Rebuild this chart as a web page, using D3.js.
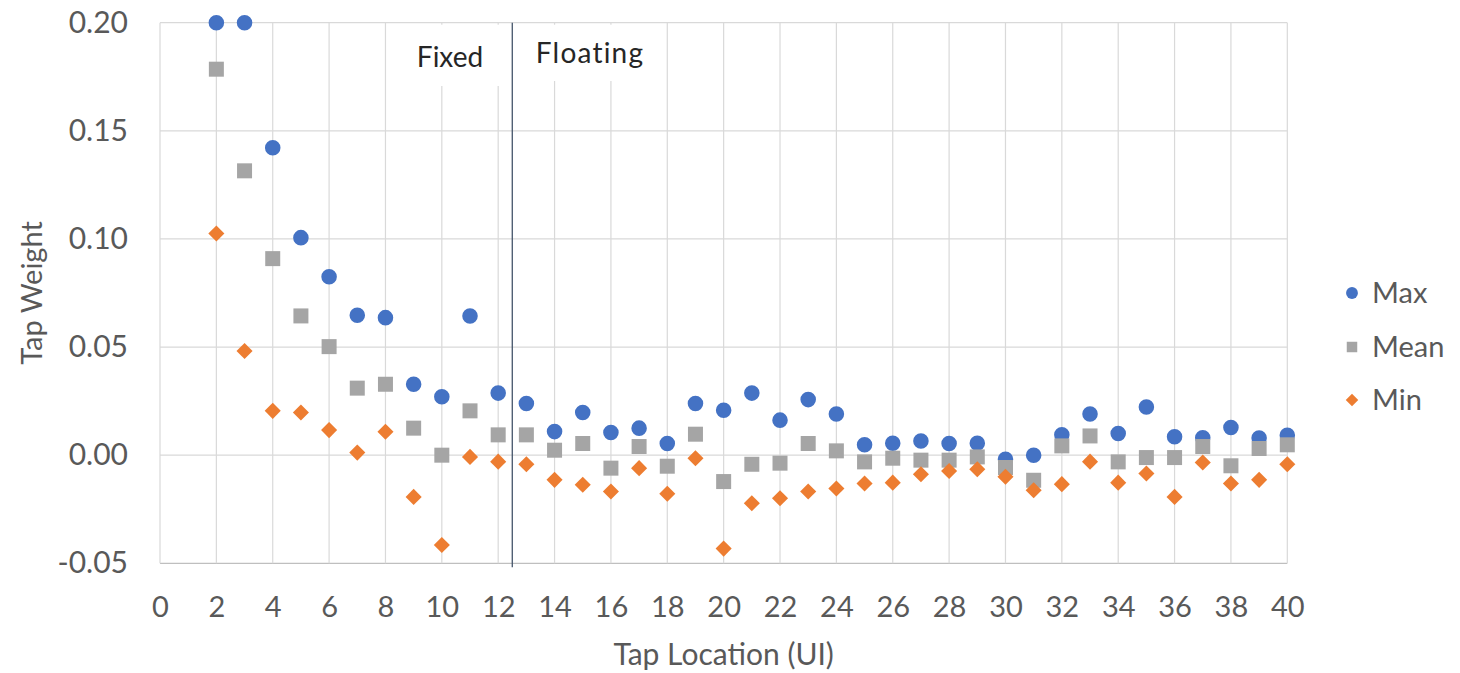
<!DOCTYPE html>
<html>
<head>
<meta charset="utf-8">
<script src="https://cdn.jsdelivr.net/npm/d3@7/dist/d3.min.js"></script>
<style>
  html, body { margin: 0; padding: 0; background: #ffffff; }
  svg { display: block; }
  text { font-family: Lato, "Open Sans", sans-serif; }
</style>
</head>
<body>
<svg id="chart" width="1460" height="673"></svg>
<script>
// ---- Data ----
const tapLocations = [2,3,4,5,6,7,8,9,10,11,12,13,14,15,16,17,18,19,20,21,22,23,24,25,26,27,28,29,30,31,32,33,34,35,36,37,38,39,40];
const maxValues  = [0.200,0.200,0.1422,0.1006,0.0825,0.0647,0.0636,0.0328,0.0270,0.0644,0.0287,0.0239,0.0109,0.0197,0.0105,0.0125,0.0054,0.0239,0.0208,0.0287,0.0162,0.0257,0.0190,0.0048,0.0055,0.0066,0.0054,0.0055,-0.0019,0.0000,0.0094,0.0190,0.0100,0.0223,0.0085,0.0081,0.0128,0.0079,0.0092];
const meanValues = [0.1785,0.1315,0.0909,0.0644,0.0502,0.0310,0.0328,0.0125,0.0000,0.0205,0.0094,0.0094,0.0023,0.0054,-0.0060,0.0040,-0.0051,0.0097,-0.0122,-0.0042,-0.0037,0.0054,0.0020,-0.0031,-0.0014,-0.0023,-0.0023,-0.0008,-0.0057,-0.0116,0.0043,0.0089,-0.0031,-0.0011,-0.0011,0.0040,-0.0049,0.0031,0.0048];
const minValues  = [0.1025,0.0482,0.0205,0.0197,0.0116,0.0012,0.0108,-0.0193,-0.0415,-0.0008,-0.0030,-0.0042,-0.0114,-0.0137,-0.0168,-0.0060,-0.0178,-0.0014,-0.0432,-0.0222,-0.0199,-0.0168,-0.0154,-0.0131,-0.0127,-0.0088,-0.0073,-0.0065,-0.0100,-0.0162,-0.0134,-0.0030,-0.0127,-0.0085,-0.0193,-0.0034,-0.0131,-0.0114,-0.0042];
const xTicks = [0,2,4,6,8,10,12,14,16,18,20,22,24,26,28,30,32,34,36,38,40];
const yTicks = [-0.05,0.00,0.05,0.10,0.15,0.20];
const yTickLabels = ["-0.05","0.00","0.05","0.10","0.15","0.20"];
const seriesNames = ["Max","Mean","Min"];
const dividerX = 12.5;
const regionLabels = ["Fixed","Floating"];

// ---- Layout ----
const svg = d3.select("#chart");
const pLeft = 160, pRight = 1287.3, pTop = 22.7, pBottom = 563.3;
const x = d3.scaleLinear().domain([0,40]).range([pLeft,pRight]);
const y = d3.scaleLinear().domain([-0.05,0.20]).range([pBottom,pTop]);
const textGray = "#595959";
const colors = {Max:"#4472C4", Mean:"#A5A5A5", Min:"#ED7D31"};

// gridlines
svg.append("g").selectAll("line").data(yTicks).join("line")
  .attr("x1",pLeft).attr("x2",pRight)
  .attr("y1",d=>y(d)).attr("y2",d=>y(d))
  .attr("stroke",d=>d===-0.05?"#bfbfbf":"#d9d9d9").attr("stroke-width",1.2);
svg.append("g").selectAll("line").data(xTicks).join("line")
  .attr("x1",d=>x(d)).attr("x2",d=>x(d))
  .attr("y1",pTop).attr("y2",pBottom)
  .attr("stroke","#d9d9d9").attr("stroke-width",1.2);

// label background boxes
svg.append("rect").attr("x",402).attr("y",pTop+2).attr("width",x(dividerX)-402-1).attr("height",86-pTop-2).attr("fill","#fff");
svg.append("rect").attr("x",x(dividerX)+1).attr("y",pTop+2).attr("width",655-x(dividerX)-1).attr("height",81-pTop-2).attr("fill","#fff");

// divider
svg.append("line").attr("x1",x(dividerX)).attr("x2",x(dividerX))
  .attr("y1",pTop).attr("y2",pBottom+4)
  .attr("stroke","#44546A").attr("stroke-width",1.3);

svg.append("text").attr("x",450).attr("y",66.7).attr("text-anchor","middle")
  .attr("font-size",28).attr("fill","#262626").text(regionLabels[0]);
svg.append("text").attr("x",590).attr("y",63.3).attr("text-anchor","middle")
  .attr("font-size",28).attr("fill","#262626").attr("letter-spacing",1.2).text(regionLabels[1]);

// axes
const xAxis = svg.append("g").attr("transform",`translate(0,${pBottom})`)
  .call(d3.axisBottom(x).tickValues(xTicks).tickSize(0).tickPadding(33).tickFormat(d3.format("d")));
xAxis.select(".domain").remove();
xAxis.selectAll("text").attr("font-size",29).attr("fill",textGray).attr("font-family","Lato, sans-serif");

const yAxis = svg.append("g").attr("transform",`translate(${pLeft},0)`)
  .call(d3.axisLeft(y).tickValues(yTicks).tickSize(0).tickPadding(32).tickFormat((d,i)=>yTickLabels[i]));
yAxis.select(".domain").remove();
yAxis.selectAll("text").attr("font-size",30).attr("fill",textGray).attr("font-family","Lato, sans-serif");

// axis titles
svg.append("text").attr("x",(pLeft+pRight)/2).attr("y",665).attr("text-anchor","middle")
  .attr("font-size",30).attr("fill",textGray).text("Tap Location (UI)");
svg.append("text").attr("transform",`translate(42,${(pTop+pBottom)/2}) rotate(-90)`)
  .attr("text-anchor","middle").attr("font-size",29).attr("fill",textGray).text("Tap Weight");

// markers
const symbols = {Max:d3.symbolCircle, Mean:d3.symbolSquare, Min:d3.symbolDiamond2};
const sizes = {Max:190, Mean:225, Min:165};
const dataBySeries = {Max:maxValues, Mean:meanValues, Min:minValues};
seriesNames.forEach(name=>{
  svg.append("g").selectAll("path").data(tapLocations.map((t,i)=>[t,dataBySeries[name][i]])).join("path")
    .attr("d",d3.symbol().type(symbols[name]).size(sizes[name]))
    .attr("transform",d=>`translate(${x(d[0])},${y(d[1])})`)
    .attr("fill",colors[name]);
});

// legend
const legendY = [293,347,400];
const legendSizes = {Max:110, Mean:110, Min:100};
seriesNames.forEach((name,i)=>{
  svg.append("path").attr("d",d3.symbol().type(symbols[name]).size(legendSizes[name]))
    .attr("transform",`translate(1352,${legendY[i]})`).attr("fill",colors[name]);
  svg.append("text").attr("x",1372).attr("y",legendY[i]).attr("dy","0.35em")
    .attr("font-size",29).attr("fill",textGray).text(name);
});
</script>
</body>
</html>
